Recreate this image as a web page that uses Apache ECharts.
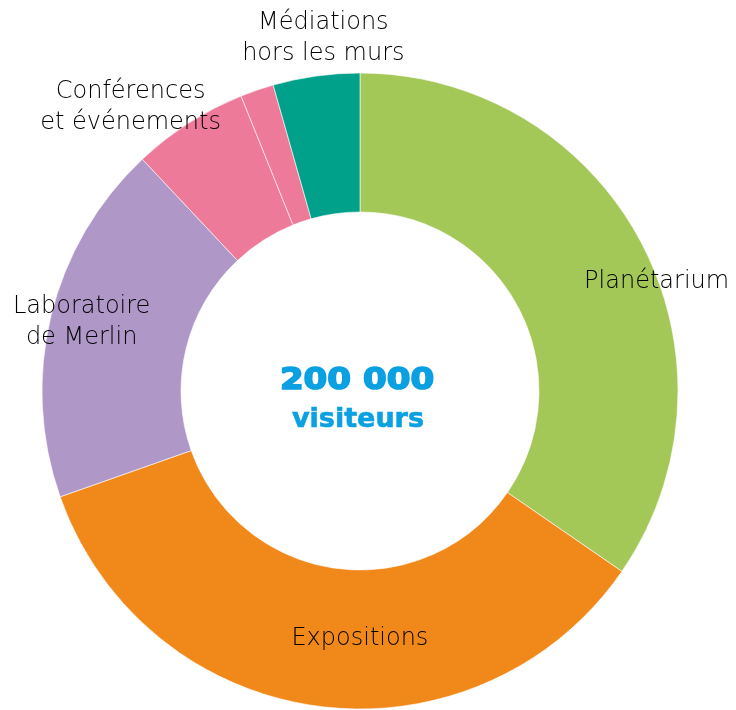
<!DOCTYPE html>
<html>
<head>
<meta charset="utf-8">
<script src="https://cdn.jsdelivr.net/npm/echarts@6/dist/echarts.min.js"></script>
<style>
  html, body { margin: 0; padding: 0; background: #fff; }
  #chart { width: 736px; height: 710px; }
</style>
</head>
<body>
<div id="chart"></div>
<script>
// activity shares, in % of visitors
const categories = [
  "Planétarium",
  "Expositions",
  "Laboratoire\nde Merlin",
  "Conférences\net événements",
  "",
  "Médiations\nhors les murs",
];
const values = [34.6, 35.0, 18.4, 5.9, 1.7, 4.4];
const totalLabel = "200 000";
const unitLabel = "visiteurs";

const colors = ["#a4c858", "#f1891a", "#af97c7", "#ee7a99", "#ee7a99", "#00a18a"];
// nudges from the default inside label spot
const labelOffsets = [[74, 8], [33, -2], [-34, -9], [-94, -72], [0, 0], [-2, -104]];

var chartDom = document.getElementById("chart");
var myChart = echarts.init(chartDom, null, { renderer: "canvas" });

const data = values.map((v, i) => ({
  name: categories[i] || "autre",
  value: v,
  itemStyle: { color: colors[i] },
  label: categories[i]
    ? { show: true, offset: labelOffsets[i] }
    : { show: false },
}));

var option = {
  animation: false,
  series: [
    {
      type: "pie",
      center: [360, 391],
      radius: [179, 318],
      startAngle: 90,
      clockwise: true,
      avoidLabelOverlap: false,
      itemStyle: { borderColor: "#fff", borderWidth: 0.6 },
      label: {
        position: "inside",
        formatter: "{b}",
        color: "#000",
        fontFamily: "DejaVu Sans",
        fontWeight: 200,
        fontSize: 24,
        lineHeight: 31,
        align: "center",
      },
      labelLine: { show: false },
      emphasis: { disabled: true },
      data: data,
    },
  ],
  graphic: [
    {
      type: "text",
      x: 357,
      y: 381,
      scaleX: 1.1,
      style: {
        text: totalLabel,
        fill: "#0aa0e2",
        stroke: "#0aa0e2",
        lineWidth: 1.6,
        font: "bold 31px 'DejaVu Sans'",
        textAlign: "center",
        textVerticalAlign: "middle",
      },
    },
    {
      type: "text",
      x: 358,
      y: 420,
      style: {
        text: unitLabel,
        fill: "#0aa0e2",
        stroke: "#0aa0e2",
        lineWidth: 0.6,
        font: "bold 27px 'DejaVu Sans'",
        textAlign: "center",
        textVerticalAlign: "middle",
      },
    },
  ],
};

option && myChart.setOption(option);
</script>
</body>
</html>
